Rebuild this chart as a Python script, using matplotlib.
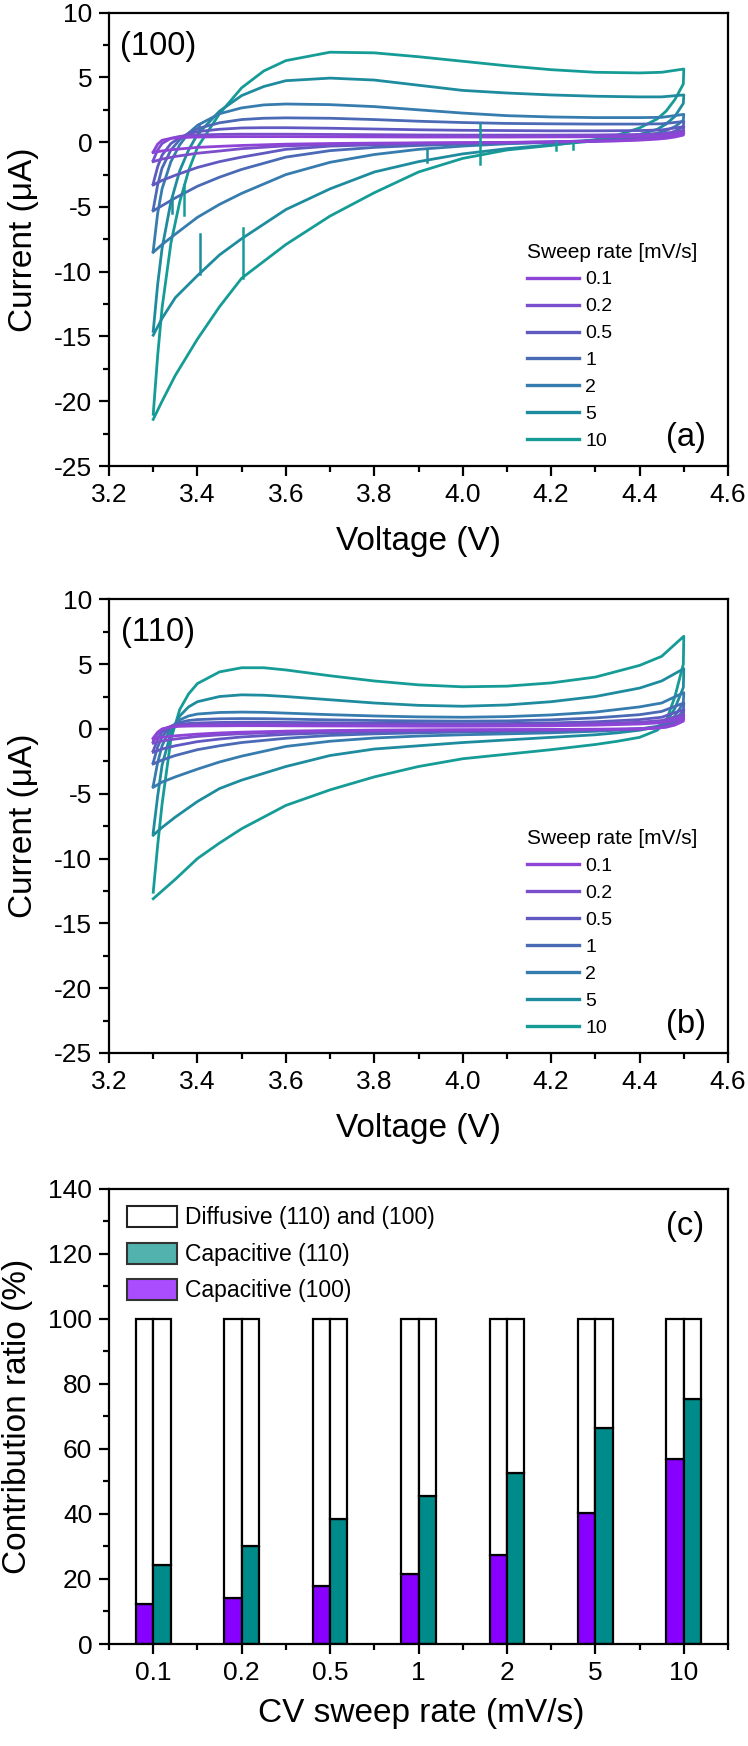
import numpy as np
import matplotlib
matplotlib.use("Agg")
import matplotlib.pyplot as plt
from matplotlib.ticker import MultipleLocator, FixedLocator
from matplotlib.patches import Patch
from matplotlib.lines import Line2D

plt.rcParams['font.family'] = ['Liberation Sans', 'DejaVu Sans']
plt.rcParams['axes.unicode_minus'] = False

# ---------------- data ----------------
RATES = ['0.1', '0.2', '0.5', '1', '2', '5', '10']
RATE_COLORS = ['#8E44D6', '#7B4FCB', '#6159C2', '#4A6AB6', '#377CAE', '#1E8C9E', '#169C96']

V_FWD = [3.30, 3.31, 3.32, 3.34, 3.36, 3.38, 3.40, 3.45, 3.50, 3.55, 3.60,
         3.70, 3.80, 3.90, 4.00, 4.10, 4.20, 4.30, 4.40, 4.45, 4.50]
V_REV = [4.50, 4.499, 4.48, 4.46, 4.44, 4.40, 4.35, 4.30, 4.20, 4.10, 4.00,
         3.90, 3.80, 3.70, 3.60, 3.50, 3.45, 3.40, 3.35, 3.32, 3.30]

# (100) facet, anodic (forward) and cathodic (reverse) branches, current in uA
I100_FWD = {
    '0.1': [-0.75, -0.15, 0.15, 0.30, 0.35, 0.38, 0.40, 0.42, 0.43, 0.43, 0.43,
            0.42, 0.41, 0.40, 0.40, 0.40, 0.41, 0.42, 0.45, 0.50, 0.70],
    '0.2': [-1.4, -0.6, -0.1, 0.30, 0.45, 0.52, 0.56, 0.60, 0.62, 0.62, 0.62,
            0.60, 0.58, 0.56, 0.55, 0.55, 0.55, 0.56, 0.60, 0.65, 0.90],
    '0.5': [-3.2, -1.9, -1.0, -0.1, 0.35, 0.65, 0.82, 1.00, 1.10, 1.12, 1.12,
            1.08, 1.02, 0.96, 0.92, 0.90, 0.88, 0.88, 0.90, 0.95, 1.20],
    '1':   [-5.2, -3.3, -2.0, -0.6, 0.2, 0.7, 1.05, 1.5, 1.75, 1.85, 1.88,
            1.85, 1.75, 1.62, 1.52, 1.45, 1.42, 1.40, 1.40, 1.42, 1.60],
    '2':   [-8.4, -5.5, -3.6, -1.5, -0.2, 0.7, 1.3, 2.2, 2.65, 2.88, 2.95,
            2.90, 2.75, 2.50, 2.25, 2.05, 1.95, 1.90, 1.90, 1.92, 2.15],
    '5':   [-14.6, -11.0, -8.2, -4.6, -2.2, -0.6, 0.6, 2.4, 3.6, 4.3, 4.75,
            4.95, 4.80, 4.40, 4.00, 3.80, 3.65, 3.55, 3.50, 3.50, 3.65],
    '10':  [-21.0, -16.5, -12.8, -7.8, -4.6, -2.2, -0.4, 2.2, 4.2, 5.5, 6.3,
            6.95, 6.90, 6.60, 6.25, 5.90, 5.60, 5.40, 5.35, 5.40, 5.65],
}
I100_REV = {
    '0.1': [0.70, 0.55, 0.40, 0.30, 0.24, 0.16, 0.10, 0.07, 0.02, -0.01, -0.03,
            -0.05, -0.07, -0.10, -0.15, -0.25, -0.32, -0.40, -0.55, -0.67, -0.80],
    '0.2': [0.90, 0.70, 0.50, 0.38, 0.30, 0.20, 0.12, 0.08, 0.02, -0.02, -0.05,
            -0.08, -0.12, -0.18, -0.28, -0.50, -0.68, -0.85, -1.10, -1.30, -1.50],
    '0.5': [1.20, 0.90, 0.65, 0.50, 0.40, 0.25, 0.15, 0.10, 0.02, -0.03, -0.08,
            -0.13, -0.20, -0.30, -0.55, -1.15, -1.50, -1.95, -2.55, -2.95, -3.30],
    '1':   [1.60, 1.20, 0.85, 0.60, 0.45, 0.30, 0.18, 0.10, 0.00, -0.08, -0.15,
            -0.25, -0.40, -0.65, -1.15, -2.10, -2.70, -3.40, -4.30, -4.90, -5.30],
    '2':   [2.15, 1.70, 1.20, 0.90, 0.70, 0.45, 0.28, 0.15, 0.00, -0.12, -0.30,
            -0.55, -0.95, -1.55, -2.50, -3.95, -4.80, -5.80, -7.10, -7.90, -8.50],
    '5':   [3.65, 3.00, 2.00, 1.40, 1.00, 0.60, 0.30, 0.10, -0.20, -0.50, -0.90,
            -1.50, -2.30, -3.60, -5.20, -7.45, -8.70, -10.30, -12.00, -13.60, -14.90],
    '10':  [5.65, 4.50, 3.30, 2.40, 1.80, 1.10, 0.55, 0.20, -0.25, -0.60, -1.25,
            -2.30, -3.90, -5.70, -7.90, -10.50, -12.70, -15.20, -18.00, -20.00, -21.40],
}

# (110) facet
I110_FWD = {
    '0.1': [-0.70, -0.25, 0.00, 0.15, 0.20, 0.22, 0.23, 0.24, 0.25, 0.25, 0.24,
            0.23, 0.22, 0.21, 0.21, 0.22, 0.24, 0.29, 0.38, 0.48, 0.85],
    '0.2': [-1.00, -0.40, -0.05, 0.20, 0.27, 0.30, 0.32, 0.34, 0.35, 0.35, 0.34,
            0.32, 0.30, 0.29, 0.29, 0.30, 0.33, 0.40, 0.52, 0.65, 1.10],
    '0.5': [-1.70, -0.80, -0.25, 0.20, 0.35, 0.42, 0.46, 0.50, 0.52, 0.52, 0.50,
            0.47, 0.44, 0.42, 0.41, 0.42, 0.46, 0.55, 0.72, 0.90, 1.50],
    '1':   [-2.6, -1.4, -0.6, 0.2, 0.5, 0.65, 0.72, 0.78, 0.80, 0.79, 0.76,
            0.70, 0.65, 0.62, 0.60, 0.62, 0.70, 0.85, 1.10, 1.35, 2.00],
    '2':   [-4.4, -2.6, -1.3, 0.1, 0.7, 1.0, 1.15, 1.27, 1.30, 1.28, 1.22,
            1.10, 1.00, 0.93, 0.90, 0.95, 1.08, 1.30, 1.70, 2.00, 2.80],
    '5':   [-8.0, -5.2, -2.8, -0.3, 1.0, 1.7, 2.1, 2.5, 2.63, 2.60, 2.50,
            2.25, 2.00, 1.82, 1.75, 1.85, 2.10, 2.50, 3.15, 3.70, 4.65],
    '10':  [-12.6, -9.0, -5.8, -0.8, 1.5, 2.7, 3.5, 4.4, 4.72, 4.72, 4.55,
            4.10, 3.70, 3.40, 3.25, 3.30, 3.55, 4.00, 4.90, 5.60, 7.15],
}
I110_REV = {
    '0.1': [0.85, 0.60, 0.30, 0.13, 0.06, 0.00, -0.01, -0.02, -0.04, -0.05, -0.06,
            -0.07, -0.09, -0.12, -0.17, -0.25, -0.31, -0.40, -0.53, -0.65, -0.80],
    '0.2': [1.10, 0.75, 0.38, 0.17, 0.08, 0.00, -0.02, -0.04, -0.06, -0.08, -0.09,
            -0.11, -0.14, -0.18, -0.25, -0.37, -0.46, -0.58, -0.78, -0.93, -1.10],
    '0.5': [1.50, 1.00, 0.50, 0.22, 0.10, 0.00, -0.04, -0.06, -0.10, -0.13, -0.15,
            -0.18, -0.23, -0.30, -0.42, -0.62, -0.78, -0.98, -1.30, -1.55, -1.80],
    '1':   [2.00, 1.40, 0.70, 0.30, 0.12, 0.00, -0.06, -0.10, -0.16, -0.20, -0.24,
            -0.30, -0.38, -0.50, -0.72, -1.05, -1.30, -1.60, -2.05, -2.40, -2.70],
    '2':   [2.80, 2.00, 1.00, 0.45, 0.20, 0.00, -0.10, -0.18, -0.30, -0.38, -0.45,
            -0.55, -0.70, -0.95, -1.35, -2.10, -2.55, -3.10, -3.70, -4.10, -4.50],
    '5':   [4.65, 3.20, 1.60, 0.50, 0.15, -0.10, -0.30, -0.45, -0.65, -0.85, -1.05,
            -1.30, -1.55, -2.05, -2.90, -3.95, -4.60, -5.60, -6.80, -7.60, -8.20],
    '10':  [7.15, 5.00, 2.50, 0.60, -0.10, -0.65, -0.95, -1.20, -1.60, -1.95, -2.30,
            -2.90, -3.70, -4.70, -5.90, -7.70, -8.80, -10.00, -11.60, -12.50, -13.10],
}

# measurement glitches (vertical spikes) in the (100) data: voltage, low, high, rate
SPIKE_V = [3.342, 3.369, 3.406, 3.504, 3.919, 4.039, 4.212, 4.250, 3.404]
SPIKE_LO = [-5.5, -5.6, -10.2, -10.5, -1.5, -1.67, -0.6, -0.55, 0.7]
SPIKE_HI = [-4.2, -3.3, -7.1, -6.6, -0.6, 1.43, 0.0, -0.05, 1.4]
SPIKE_RATE = ['5', '10', '5', '10', '5', '10', '10', '10', '1']

# contribution ratios (%)
BAR_CATS = ['0.1', '0.2', '0.5', '1', '2', '5', '10']
CAP_100 = [12.3, 14.2, 17.9, 21.6, 27.5, 40.4, 56.8]
CAP_110 = [24.2, 30.1, 38.3, 45.6, 52.7, 66.4, 75.4]

# ---------------- figure ----------------
W, H = 748, 1746
fig = plt.figure(figsize=(W / 100, H / 100), dpi=100)

LEFT = 109 / W
AW = (728 - 109) / W


def ax_rect(top_px, bot_px):
    return [LEFT, 1 - bot_px / H, AW, (bot_px - top_px) / H]


TICK_FS = 19
LABEL_FS = 24
TAG_FS = 23.5


def style_axes(ax):
    for s in ax.spines.values():
        s.set_linewidth(1.6)
    ax.tick_params(which='major', direction='out', length=7, width=1.6,
                   labelsize=TICK_FS, pad=5, top=False, right=False)
    ax.tick_params(which='minor', direction='out', length=4, width=1.6,
                   top=False, right=False)


def cv_panel(ax, fwd, rev, tag, letter, spikes=False):
    for rate, col in reversed(list(zip(RATES, RATE_COLORS))):
        v = list(V_FWD) + list(V_REV)
        i = list(fwd[rate]) + list(rev[rate])
        ax.plot(v, i, color=col, lw=2.0, solid_joinstyle='round')
    if spikes:
        for v, lo, hi, r in zip(SPIKE_V, SPIKE_LO, SPIKE_HI, SPIKE_RATE):
            ax.plot([v, v], [lo, hi], color=RATE_COLORS[RATES.index(r)], lw=1.8)
    ax.set_xlim(3.2, 4.6)
    ax.set_ylim(-25, 10)
    ax.xaxis.set_major_locator(MultipleLocator(0.2))
    ax.xaxis.set_minor_locator(MultipleLocator(0.1))
    ax.yaxis.set_major_locator(MultipleLocator(5))
    ax.yaxis.set_minor_locator(MultipleLocator(2.5))
    ax.xaxis.set_major_formatter(matplotlib.ticker.FormatStrFormatter('%.1f'))
    style_axes(ax)
    ax.set_xlabel('Voltage (V)', fontsize=LABEL_FS)
    ax.set_ylabel('Current (μA)', fontsize=LABEL_FS)
    ax.xaxis.set_label_coords(0.5, -0.132)
    ax.yaxis.set_label_coords(-0.113, 0.5)
    ax.text(0.079, 0.926, tag, transform=ax.transAxes, fontsize=TAG_FS,
            ha='center', va='center')
    ax.text(0.932, 0.062, letter, transform=ax.transAxes, fontsize=TAG_FS,
            ha='center', va='center')
    handles = [Line2D([], [], color=c, lw=2.4) for c in RATE_COLORS]
    ax.legend(handles, RATES, title='Sweep rate [mV/s]', loc='upper left',
              bbox_to_anchor=(0.675, 0.493), frameon=False, fontsize=14,
              title_fontsize=15, handlelength=2.7, handletextpad=0.3,
              labelspacing=0.48, borderpad=0, borderaxespad=0,
              alignment='left')


ax1 = fig.add_axes(ax_rect(12.7, 466))
cv_panel(ax1, I100_FWD, I100_REV, '(100)', '(a)', spikes=True)

ax2 = fig.add_axes(ax_rect(599.3, 1053))
cv_panel(ax2, I110_FWD, I110_REV, '(110)', '(b)')

# ---- bar panel ----
ax3 = fig.add_axes(ax_rect(1188.7, 1644))
x = np.arange(len(BAR_CATS))
bw = 0.196
PURPLE = '#8800FF'
TEAL = '#008B8B'
cap100 = np.array(CAP_100)
cap110 = np.array(CAP_110)
ax3.bar(x - bw / 2, cap100, width=bw, color=PURPLE, edgecolor='black', lw=1.6)
ax3.bar(x - bw / 2, 100 - cap100, bottom=cap100, width=bw, color='white',
        edgecolor='black', lw=1.6)
ax3.bar(x + bw / 2, cap110, width=bw, color=TEAL, edgecolor='black', lw=1.6)
ax3.bar(x + bw / 2, 100 - cap110, bottom=cap110, width=bw, color='white',
        edgecolor='black', lw=1.6)
ax3.set_xlim(-0.5, len(BAR_CATS) - 0.5)
ax3.set_ylim(0, 140)
ax3.set_xticks(x)
ax3.set_xticklabels(BAR_CATS)
ax3.xaxis.set_minor_locator(FixedLocator(np.arange(-0.5, len(BAR_CATS), 1.0)))
ax3.yaxis.set_major_locator(MultipleLocator(20))
ax3.yaxis.set_minor_locator(MultipleLocator(10))
style_axes(ax3)
ax3.set_xlabel('CV sweep rate (mV/s)', fontsize=LABEL_FS)
ax3.set_ylabel('Contribution ratio (%)', fontsize=LABEL_FS)
ax3.xaxis.set_label_coords(0.505, -0.118)
ax3.yaxis.set_label_coords(-0.123, 0.5)
ax3.text(0.93, 0.916, '(c)', transform=ax3.transAxes, fontsize=TAG_FS,
         ha='center', va='center')
patches = [Patch(facecolor='white', edgecolor='#222222', lw=1.5),
           Patch(facecolor='#52B2AD', edgecolor='#333333', lw=1.5),
           Patch(facecolor='#A94DFF', edgecolor='#333333', lw=1.5)]
ax3.legend(patches, ['Diffusive (110) and (100)', 'Capacitive (110)', 'Capacitive (100)'],
           loc='upper left', bbox_to_anchor=(0.0286, 0.962), frameon=False,
           fontsize=16.5, handlelength=2.2, handleheight=1.05, handletextpad=0.35,
           labelspacing=0.57, borderpad=0, borderaxespad=0)

fig.savefig('out.png', dpi=100)
